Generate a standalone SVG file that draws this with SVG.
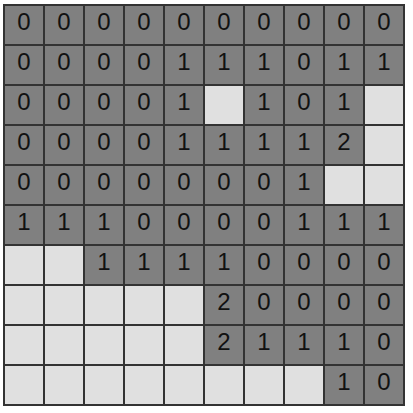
<svg xmlns="http://www.w3.org/2000/svg" width="413" height="413" viewBox="0 0 413 413">
<style>
.d{fill:#808080;stroke:#333;stroke-width:2}
.l{fill:#e0e0e0;stroke:#333;stroke-width:2}
text{font-family:"Liberation Sans",Arial,sans-serif;font-size:24px;fill:#111;text-anchor:middle}
</style>
<rect width="413" height="413" fill="#fff"/>
<g id="row0">
<rect class="d" x="4" y="5" width="40" height="40"/><text x="24" y="29.5">0</text>
<rect class="d" x="44" y="5" width="40" height="40"/><text x="64" y="29.5">0</text>
<rect class="d" x="84" y="5" width="40" height="40"/><text x="104" y="29.5">0</text>
<rect class="d" x="124" y="5" width="40" height="40"/><text x="144" y="29.5">0</text>
<rect class="d" x="164" y="5" width="40" height="40"/><text x="184" y="29.5">0</text>
<rect class="d" x="204" y="5" width="40" height="40"/><text x="224" y="29.5">0</text>
<rect class="d" x="244" y="5" width="40" height="40"/><text x="264" y="29.5">0</text>
<rect class="d" x="284" y="5" width="40" height="40"/><text x="304" y="29.5">0</text>
<rect class="d" x="324" y="5" width="40" height="40"/><text x="344" y="29.5">0</text>
<rect class="d" x="364" y="5" width="40" height="40"/><text x="384" y="29.5">0</text>
</g>
<g id="row1">
<rect class="d" x="4" y="45" width="40" height="40"/><text x="24" y="69.5">0</text>
<rect class="d" x="44" y="45" width="40" height="40"/><text x="64" y="69.5">0</text>
<rect class="d" x="84" y="45" width="40" height="40"/><text x="104" y="69.5">0</text>
<rect class="d" x="124" y="45" width="40" height="40"/><text x="144" y="69.5">0</text>
<rect class="d" x="164" y="45" width="40" height="40"/><text x="184" y="69.5">1</text>
<rect class="d" x="204" y="45" width="40" height="40"/><text x="224" y="69.5">1</text>
<rect class="d" x="244" y="45" width="40" height="40"/><text x="264" y="69.5">1</text>
<rect class="d" x="284" y="45" width="40" height="40"/><text x="304" y="69.5">0</text>
<rect class="d" x="324" y="45" width="40" height="40"/><text x="344" y="69.5">1</text>
<rect class="d" x="364" y="45" width="40" height="40"/><text x="384" y="69.5">1</text>
</g>
<g id="row2">
<rect class="d" x="4" y="85" width="40" height="40"/><text x="24" y="109.5">0</text>
<rect class="d" x="44" y="85" width="40" height="40"/><text x="64" y="109.5">0</text>
<rect class="d" x="84" y="85" width="40" height="40"/><text x="104" y="109.5">0</text>
<rect class="d" x="124" y="85" width="40" height="40"/><text x="144" y="109.5">0</text>
<rect class="d" x="164" y="85" width="40" height="40"/><text x="184" y="109.5">1</text>
<rect class="l" x="204" y="85" width="40" height="40"/>
<rect class="d" x="244" y="85" width="40" height="40"/><text x="264" y="109.5">1</text>
<rect class="d" x="284" y="85" width="40" height="40"/><text x="304" y="109.5">0</text>
<rect class="d" x="324" y="85" width="40" height="40"/><text x="344" y="109.5">1</text>
<rect class="l" x="364" y="85" width="40" height="40"/>
</g>
<g id="row3">
<rect class="d" x="4" y="125" width="40" height="40"/><text x="24" y="149.5">0</text>
<rect class="d" x="44" y="125" width="40" height="40"/><text x="64" y="149.5">0</text>
<rect class="d" x="84" y="125" width="40" height="40"/><text x="104" y="149.5">0</text>
<rect class="d" x="124" y="125" width="40" height="40"/><text x="144" y="149.5">0</text>
<rect class="d" x="164" y="125" width="40" height="40"/><text x="184" y="149.5">1</text>
<rect class="d" x="204" y="125" width="40" height="40"/><text x="224" y="149.5">1</text>
<rect class="d" x="244" y="125" width="40" height="40"/><text x="264" y="149.5">1</text>
<rect class="d" x="284" y="125" width="40" height="40"/><text x="304" y="149.5">1</text>
<rect class="d" x="324" y="125" width="40" height="40"/><text x="344" y="149.5">2</text>
<rect class="l" x="364" y="125" width="40" height="40"/>
</g>
<g id="row4">
<rect class="d" x="4" y="165" width="40" height="40"/><text x="24" y="189.5">0</text>
<rect class="d" x="44" y="165" width="40" height="40"/><text x="64" y="189.5">0</text>
<rect class="d" x="84" y="165" width="40" height="40"/><text x="104" y="189.5">0</text>
<rect class="d" x="124" y="165" width="40" height="40"/><text x="144" y="189.5">0</text>
<rect class="d" x="164" y="165" width="40" height="40"/><text x="184" y="189.5">0</text>
<rect class="d" x="204" y="165" width="40" height="40"/><text x="224" y="189.5">0</text>
<rect class="d" x="244" y="165" width="40" height="40"/><text x="264" y="189.5">0</text>
<rect class="d" x="284" y="165" width="40" height="40"/><text x="304" y="189.5">1</text>
<rect class="l" x="324" y="165" width="40" height="40"/>
<rect class="l" x="364" y="165" width="40" height="40"/>
</g>
<g id="row5">
<rect class="d" x="4" y="205" width="40" height="40"/><text x="24" y="229.5">1</text>
<rect class="d" x="44" y="205" width="40" height="40"/><text x="64" y="229.5">1</text>
<rect class="d" x="84" y="205" width="40" height="40"/><text x="104" y="229.5">1</text>
<rect class="d" x="124" y="205" width="40" height="40"/><text x="144" y="229.5">0</text>
<rect class="d" x="164" y="205" width="40" height="40"/><text x="184" y="229.5">0</text>
<rect class="d" x="204" y="205" width="40" height="40"/><text x="224" y="229.5">0</text>
<rect class="d" x="244" y="205" width="40" height="40"/><text x="264" y="229.5">0</text>
<rect class="d" x="284" y="205" width="40" height="40"/><text x="304" y="229.5">1</text>
<rect class="d" x="324" y="205" width="40" height="40"/><text x="344" y="229.5">1</text>
<rect class="d" x="364" y="205" width="40" height="40"/><text x="384" y="229.5">1</text>
</g>
<g id="row6">
<rect class="l" x="4" y="245" width="40" height="40"/>
<rect class="l" x="44" y="245" width="40" height="40"/>
<rect class="d" x="84" y="245" width="40" height="40"/><text x="104" y="269.5">1</text>
<rect class="d" x="124" y="245" width="40" height="40"/><text x="144" y="269.5">1</text>
<rect class="d" x="164" y="245" width="40" height="40"/><text x="184" y="269.5">1</text>
<rect class="d" x="204" y="245" width="40" height="40"/><text x="224" y="269.5">1</text>
<rect class="d" x="244" y="245" width="40" height="40"/><text x="264" y="269.5">0</text>
<rect class="d" x="284" y="245" width="40" height="40"/><text x="304" y="269.5">0</text>
<rect class="d" x="324" y="245" width="40" height="40"/><text x="344" y="269.5">0</text>
<rect class="d" x="364" y="245" width="40" height="40"/><text x="384" y="269.5">0</text>
</g>
<g id="row7">
<rect class="l" x="4" y="285" width="40" height="40"/>
<rect class="l" x="44" y="285" width="40" height="40"/>
<rect class="l" x="84" y="285" width="40" height="40"/>
<rect class="l" x="124" y="285" width="40" height="40"/>
<rect class="l" x="164" y="285" width="40" height="40"/>
<rect class="d" x="204" y="285" width="40" height="40"/><text x="224" y="309.5">2</text>
<rect class="d" x="244" y="285" width="40" height="40"/><text x="264" y="309.5">0</text>
<rect class="d" x="284" y="285" width="40" height="40"/><text x="304" y="309.5">0</text>
<rect class="d" x="324" y="285" width="40" height="40"/><text x="344" y="309.5">0</text>
<rect class="d" x="364" y="285" width="40" height="40"/><text x="384" y="309.5">0</text>
</g>
<g id="row8">
<rect class="l" x="4" y="325" width="40" height="40"/>
<rect class="l" x="44" y="325" width="40" height="40"/>
<rect class="l" x="84" y="325" width="40" height="40"/>
<rect class="l" x="124" y="325" width="40" height="40"/>
<rect class="l" x="164" y="325" width="40" height="40"/>
<rect class="d" x="204" y="325" width="40" height="40"/><text x="224" y="349.5">2</text>
<rect class="d" x="244" y="325" width="40" height="40"/><text x="264" y="349.5">1</text>
<rect class="d" x="284" y="325" width="40" height="40"/><text x="304" y="349.5">1</text>
<rect class="d" x="324" y="325" width="40" height="40"/><text x="344" y="349.5">1</text>
<rect class="d" x="364" y="325" width="40" height="40"/><text x="384" y="349.5">0</text>
</g>
<g id="row9">
<rect class="l" x="4" y="365" width="40" height="40"/>
<rect class="l" x="44" y="365" width="40" height="40"/>
<rect class="l" x="84" y="365" width="40" height="40"/>
<rect class="l" x="124" y="365" width="40" height="40"/>
<rect class="l" x="164" y="365" width="40" height="40"/>
<rect class="l" x="204" y="365" width="40" height="40"/>
<rect class="l" x="244" y="365" width="40" height="40"/>
<rect class="l" x="284" y="365" width="40" height="40"/>
<rect class="d" x="324" y="365" width="40" height="40"/><text x="344" y="389.5">1</text>
<rect class="d" x="364" y="365" width="40" height="40"/><text x="384" y="389.5">0</text>
</g>
</svg>
